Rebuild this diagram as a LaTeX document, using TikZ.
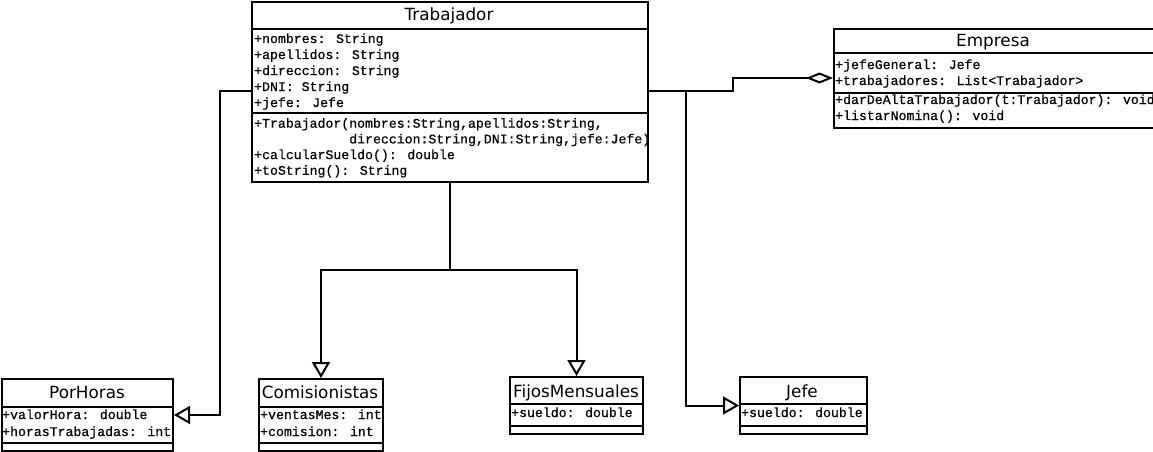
\documentclass[tikz,border=0pt]{standalone}
\usepackage{fontspec}
\setmainfont{DejaVu Sans}
\newfontfamily\monofont[FakeBold=0.6]{Liberation Mono}
\usetikzlibrary{arrows.meta}

\tikzset{
    clase/.style={draw, line width=2pt, anchor=north west, inner sep=0pt},
    separador/.style={line width=2pt},
    titulo/.style={font=\fontsize{16.8}{19}\selectfont, anchor=base, inner sep=0pt},
    miembro/.style={font=\monofont\fontsize{13.2}{16}\selectfont, anchor=base west, inner sep=0pt},
    enlace/.style={line width=2pt},
    herencia/.style={enlace, -{Triangle[open, length=16pt, width=18pt]}},
    agregacion/.style={enlace, -{Diamond[open, length=27pt, width=11pt]}},
}

\begin{document}
\begin{tikzpicture}[x=1pt, y=-1pt]

    \useasboundingbox (0,0) rectangle (1153,452);

    % clases
    \node[clase, minimum width=396pt, minimum height=180pt] (trab) at (251,1) {};
    \node[clase, minimum width=330pt, minimum height=99pt] (emp) at (833,28) {};
    \node[clase, minimum width=171pt, minimum height=72pt] (porh) at (1,378) {};
    \node[clase, minimum width=124pt, minimum height=72pt] (comi) at (258,378) {};
    \node[clase, minimum width=133pt, minimum height=57pt] (fijos) at (509,376) {};
    \node[clase, minimum width=127pt, minimum height=57pt] (jefe) at (739,376) {};

    % separadores
    \draw[separador] (trab.west |- 0,29) -- (trab.east |- 0,29)
                     (trab.west |- 0,113) -- (trab.east |- 0,113);
    \draw[separador] (emp.west |- 0,53) -- (emp.east |- 0,53)
                     (emp.west |- 0,93) -- (emp.east |- 0,93);
    \draw[separador] foreach \c in {porh,comi} {(\c.west |- 0,407) -- (\c.east |- 0,407)
                     (\c.west |- 0,443) -- (\c.east |- 0,443)};
    \draw[separador] foreach \c in {fijos,jefe} {(\c.west |- 0,404) -- (\c.east |- 0,404)
                     (\c.west |- 0,426) -- (\c.east |- 0,426)};

    % titulos
    \node[titulo] (trabT) at (449,21) {Trabajador};
    \node[titulo] (empT) at (993,47) {Empresa};
    \node[titulo] (porhT) at (87,398) {PorHoras};
    \node[titulo] (comiT) at (320,398) {Comisionistas};
    \node[titulo] (fijosT) at (576,397) {FijosMensuales};
    \node[titulo] (jefeT) at (802,397) {Jefe};

    % atributos y metodos
    \foreach \t [count=\i] in {+nombres: String, +apellidos: String, +direccion: String, +DNI: String, +jefe: Jefe} {
        \node[miembro] (trabA\i) at (254,27+16*\i) {\t};
    }
    \foreach \t [count=\i] in {{+Trabajador(nombres:String,apellidos:String,}, {\phantom{+Trabajador(}direccion:String,DNI:String,jefe:Jefe)}, +calcularSueldo(): double, +toString(): String} {
        \node[miembro] (trabM\i) at (254,112+15.7*\i) {\t};
    }
    \foreach \t [count=\i] in {+jefeGeneral: Jefe, +trabajadores: List<Trabajador>} {
        \node[miembro] (empA\i) at (835,53+16*\i) {\t};
    }
    \foreach \t [count=\i] in {+darDeAltaTrabajador(t:Trabajador): void, +listarNomina(): void} {
        \node[miembro] (empM\i) at (835,88+16*\i) {\t};
    }
    \foreach \t [count=\i] in {+valorHora: double, +horasTrabajadas: int} {
        \node[miembro] (porhA\i) at (2,402+17*\i) {\t};
    }
    \foreach \t [count=\i] in {+ventasMes: int, +comision: int} {
        \node[miembro] (comiA\i) at (260,402+17*\i) {\t};
    }
    \node[miembro] (fijosA1) at (511,417) {+sueldo: double};
    \node[miembro] (jefeA1) at (741,417) {+sueldo: double};

    % relaciones
    \draw[herencia] (trab.west |- 0,91) -- (220,91) |- (porh.east);
    \draw[enlace] (trab.south) -- (trab.south |- 0,270) coordinate (rama);
    \draw[herencia] (rama) -| (comi.north);
    \draw[herencia] (rama) -| (fijos.north);
    \draw[herencia] (trab.east |- 0,91) -- (686,91) |- (jefe.west);
    \draw[agregacion] (trab.east |- 0,91) -- (733,91) -- (733,78) -- (emp.west |- 0,78);

\end{tikzpicture}
\end{document}
